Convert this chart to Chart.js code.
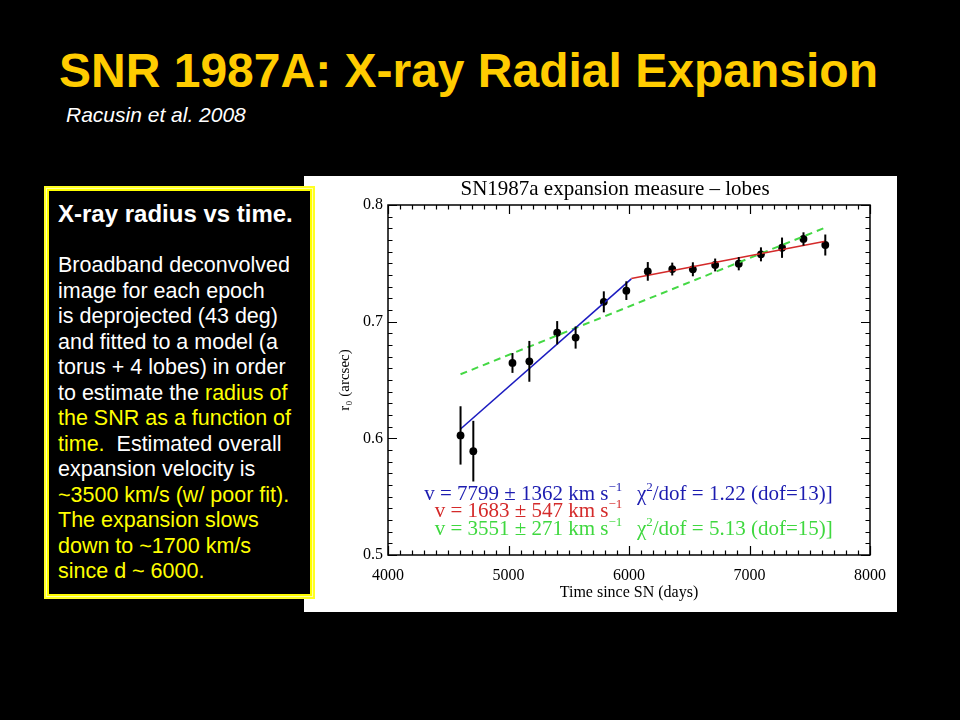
<!DOCTYPE html>
<html>
<head>
<meta charset="utf-8">
<script src="https://cdn.jsdelivr.net/npm/chart.js@4.4.1/dist/chart.umd.min.js"></script>
<style>
  body { margin: 0; background: #000; width: 960px; height: 720px; overflow: hidden; position: relative; font-family: "Liberation Sans", Arial, sans-serif; }
  .title { position: absolute; left: 59px; top: 47px; font-size: 48px; line-height: 1; font-weight: bold; color: #ffcc00; white-space: nowrap; }
  .cite { position: absolute; left: 66px; top: 104px; font-size: 21px; line-height: 1; font-style: italic; color: #fff; white-space: nowrap; }
  #panel { position: absolute; left: 304px; top: 176px; width: 593px; height: 436px; background: #fff; }
  .boxOuter { position: absolute; left: 44px; top: 186px; width: 265px; height: 407px; border: 2px solid #ffff22; background: #ffffa8; padding: 1px; }
  .boxInner { width: 100%; height: 100%; box-sizing: border-box; border: 2px solid #ffff00; background: #000; }
  .boxHead { position: absolute; left: 58px; top: 202px; font-size: 24px; line-height: 1; font-weight: bold; color: #fff; white-space: nowrap; }
  .boxBody { position: absolute; left: 58px; top: 253px; font-size: 21.5px; line-height: 25.5px; color: #fff; white-space: nowrap; }
  .hl { color: #ffff00; }
</style>
</head>
<body>
<div class="title">SNR 1987A: X-ray Radial Expansion</div>
<div class="cite">Racusin et al. 2008</div>
<div id="panel"><canvas id="lineChart"></canvas></div>
<div class="boxOuter"><div class="boxInner"></div></div>
<div class="boxHead">X-ray radius vs time.</div>
<div class="boxBody">Broadband deconvolved<br>image for each epoch<br>is deprojected (43 deg)<br>and fitted to a model (a<br>torus + 4 lobes) in order<br>to estimate the <span class="hl">radius of</span><br><span class="hl">the SNR as a function of</span><br><span class="hl">time.</span>&nbsp; Estimated overall<br>expansion velocity is<br><span class="hl">~3500 km/s (w/ poor fit).</span><br><span class="hl">The expansion slows</span><br><span class="hl">down to ~1700 km/s</span><br><span class="hl">since d ~ 6000.</span></div>
<script>
// measured epochs (days since SN), radius r0 (arcsec) and 1-sigma errors
var days = [4602, 4708, 5033, 5173, 5404, 5557, 5791, 5978, 6156, 6359, 6530, 6715, 6911, 7095, 7270, 7448, 7629];
var radius = [0.6025, 0.589, 0.6646, 0.666, 0.6905, 0.6864, 0.717, 0.7266, 0.7431, 0.7451, 0.7449, 0.7486, 0.7497, 0.7577, 0.7634, 0.7709, 0.7657];
var radiusErr = [0.025, 0.026, 0.0085, 0.0175, 0.01, 0.0095, 0.009, 0.008, 0.008, 0.0055, 0.006, 0.0055, 0.0057, 0.006, 0.0087, 0.0057, 0.009];

// fitted lines: broken fit (blue / red) and single linear fit (green)
var blueFitX = [4602, 6019];
var blueFitY = [0.608, 0.7366];
var redFitX = [6019, 7629];
var redFitY = [0.737, 0.7689];
var greenFitX = [4602, 7629];
var greenFitY = [0.6549, 0.7806];

var xTicks = [4000, 5000, 6000, 7000, 8000];
var yTicks = [0.5, 0.6, 0.7, 0.8];

function pts(xs, ys) {
    return xs.map(function(v, i) { return {x: v, y: ys[i]}; });
}

var SERIF = '"Liberation Serif", "Times New Roman", serif';

// error bars
var errorBars = {
    id: 'errorBars',
    afterDatasetsDraw: function(chart) {
        var ctx = chart.ctx, x = chart.scales.x, y = chart.scales.y;
        ctx.save();
        ctx.strokeStyle = '#000';
        ctx.lineWidth = 2;
        days.forEach(function(d, i) {
            var px = x.getPixelForValue(d);
            ctx.beginPath();
            ctx.moveTo(px, y.getPixelForValue(radius[i] - radiusErr[i]));
            ctx.lineTo(px, y.getPixelForValue(radius[i] + radiusErr[i]));
            ctx.stroke();
        });
        ctx.restore();
    }
};

// IDL style box with inward ticks on all four sides
var boxTicks = {
    id: 'boxTicks',
    afterDraw: function(chart) {
        var ctx = chart.ctx, a = chart.chartArea, x = chart.scales.x, y = chart.scales.y;
        ctx.save();
        ctx.strokeStyle = '#000';
        ctx.lineWidth = 1.5;
        ctx.strokeRect(a.left, a.top, a.right - a.left, a.bottom - a.top);
        ctx.lineWidth = 1.2;
        ctx.beginPath();
        for (var v = x.min; v <= x.max; v += 100) {
            var px = Math.round(x.getPixelForValue(v)) + 0.5;
            var len = (v % 1000 === 0) ? 9 : 4.5;
            ctx.moveTo(px, a.bottom); ctx.lineTo(px, a.bottom - len);
            ctx.moveTo(px, a.top); ctx.lineTo(px, a.top + len);
        }
        var n = Math.round((y.max - y.min) / 0.01);
        for (var i = 0; i <= n; i++) {
            var py = Math.round(y.getPixelForValue(y.min + i * 0.01)) + 0.5;
            var l2 = (i % 10 === 0) ? 9 : 4.5;
            ctx.moveTo(a.left, py); ctx.lineTo(a.left + l2, py);
            ctx.moveTo(a.right, py); ctx.lineTo(a.right - l2, py);
        }
        ctx.stroke();
        ctx.restore();
    }
};

// draw text made of [string, superscript?] pieces
function richText(ctx, parts, x, y, align, size) {
    var w = 0;
    parts.forEach(function(p) {
        ctx.font = (p[1] ? size * 0.62 : size) + 'px ' + SERIF;
        w += ctx.measureText(p[0]).width;
    });
    var cx = align === 'right' ? x - w : x;
    parts.forEach(function(p) {
        ctx.font = (p[1] ? size * 0.62 : size) + 'px ' + SERIF;
        ctx.fillText(p[0], cx, p[1] ? y - size * 0.42 : y);
        cx += ctx.measureText(p[0]).width;
    });
}

var labels = {
    id: 'labels',
    afterDraw: function(chart) {
        var ctx = chart.ctx, x = chart.scales.x, y = chart.scales.y;
        ctx.save();
        ctx.fillStyle = '#000';
        ctx.font = '21px ' + SERIF;
        ctx.textAlign = 'center';
        ctx.textBaseline = 'alphabetic';
        ctx.fillText('SN1987a expansion measure \u2013 lobes', 311, 19);
        ctx.textAlign = 'left';
        var vx = x.getPixelForValue(5945), cx = x.getPixelForValue(6066);
        var rows = [
            {y: 0.5531, c: '#1c1cb0', v: '7799 \u00b1 1362', chi: '1.22 (dof=13)]'},
            {y: 0.5386, c: '#d42a2a', v: '1683 \u00b1 547', chi: null},
            {y: 0.5232, c: '#3fd83f', v: '3551 \u00b1 271', chi: '5.13 (dof=15)]'}
        ];
        rows.forEach(function(r) {
            var py = y.getPixelForValue(r.y) + 7;
            ctx.fillStyle = r.c;
            richText(ctx, [['v = ' + r.v + ' km s', false], ['\u22121', true]], vx, py, 'right', 21);
            if (r.chi) richText(ctx, [['\u03c7', false], ['2', true], ['/dof = ' + r.chi, false]], cx, py, 'left', 21);
        });
        ctx.restore();
    }
};

var ctx = document.getElementById('lineChart').getContext('2d');

var lineChart = new Chart(ctx, {
    type: 'scatter',
    data: {
        datasets: [{
            data: pts(blueFitX, blueFitY),
            showLine: true,
            borderColor: '#1c1cc0',
            borderWidth: 1.6,
            pointRadius: 0
        }, {
            data: pts(redFitX, redFitY),
            showLine: true,
            borderColor: '#d42a2a',
            borderWidth: 1.6,
            pointRadius: 0
        }, {
            data: pts(greenFitX, greenFitY),
            showLine: true,
            borderColor: '#44d844',
            borderWidth: 2,
            borderDash: [7, 5],
            pointRadius: 0
        }, {
            data: pts(days, radius),
            showLine: false,
            pointRadius: 3.9,
            pointBackgroundColor: '#000',
            pointBorderColor: '#000',
            pointBorderWidth: 0
        }]
    },
    options: {
        responsive: true,
        maintainAspectRatio: false,
        animation: false,
        layout: { padding: { top: 29, right: 25, left: 0, bottom: 0 } },
        plugins: {
            legend: { display: false },
            tooltip: { enabled: false }
        },
        scales: {
            x: {
                type: 'linear',
                min: xTicks[0],
                max: xTicks[xTicks.length - 1],
                afterFit: function(s) { s.height = 57; },
                afterBuildTicks: function(s) { s.ticks = xTicks.map(function(v) { return {value: v}; }); },
                grid: { display: false, drawTicks: false },
                border: { display: false },
                ticks: { color: '#000', font: { family: SERIF, size: 16 }, padding: 11, maxRotation: 0,
                         callback: function(v) { return String(v); } },
                title: { display: true, text: 'Time since SN (days)', color: '#000',
                         font: { family: SERIF, size: 16 }, padding: { top: 0, bottom: 10 } }
            },
            y: {
                min: yTicks[0],
                max: yTicks[yTicks.length - 1],
                afterFit: function(s) { s.width = 84; },
                afterBuildTicks: function(s) { s.ticks = yTicks.map(function(v) { return {value: v}; }); },
                grid: { display: false, drawTicks: false },
                border: { display: false },
                ticks: { color: '#000', font: { family: SERIF, size: 16 }, padding: 5,
                         callback: function(v) { return Number(v).toFixed(1); } },
                title: { display: true, text: 'r\u2080 (arcsec)', color: '#000',
                         font: { family: SERIF, size: 15 }, padding: { top: 32, bottom: 0 } }
            }
        }
    },
    plugins: [errorBars, boxTicks, labels]
});
</script>
</body>
</html>
